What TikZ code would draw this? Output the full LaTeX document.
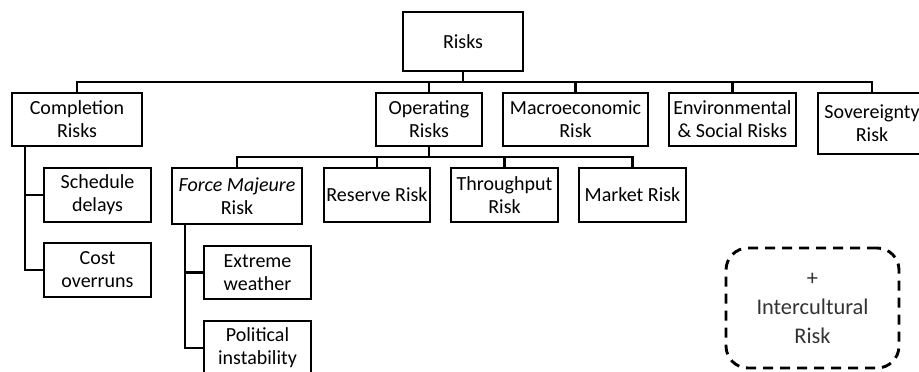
\documentclass[tikz,border=0pt]{standalone}
\usepackage{fontspec}
\setmainfont{Carlito}
\begin{document}
\begin{tikzpicture}[x=0.5pt,y=-0.5pt,
  box/.style={draw,line width=1.45pt,inner sep=0pt,align=center,font=\fontsize{10}{11.5}\selectfont},
  conn/.style={line width=1.45pt},
  dbox/.style={draw,line width=1.45pt,dash pattern=on 5pt off 3.5pt,rounded corners=11pt,inner sep=0pt,align=center,text=black!80,font=\fontsize{11.2}{14.5}\selectfont}]
\useasboundingbox (0,0) rectangle (919,371);
% level 0
\node[box,minimum width=60pt,minimum height=29.5pt] (risks) at (463,41.5) {Risks};
% level 1
\node[box,minimum width=65pt,minimum height=26.5pt] (comp) at (77,119.5) {Completion\\Risks};
\node[box,minimum width=53pt,minimum height=26.5pt] (oper) at (429,119.5) {Operating\\Risks};
\node[box,minimum width=72.5pt,minimum height=26.5pt] (macro) at (575.5,119.5) {Macroeconomic\\Risk};
\node[box,minimum width=63.5pt,minimum height=26.5pt] (env) at (732.5,119.5) {Environmental\\\& Social Risks};
\node[box,minimum width=54pt,minimum height=30.5pt] (sov) at (872,123.5) {Sovereignty\\Risk};
% completion children
\node[box,minimum width=53.5pt,minimum height=27pt] (sched) at (97.5,195) {Schedule\\delays};
\node[box,minimum width=53.5pt,minimum height=27pt] (cost) at (97.5,270) {Cost\\overruns};
% operating children
\node[box,minimum width=65pt,minimum height=28pt] (force) at (237,196) {\textit{Force Majeure}\\Risk};
\node[box,minimum width=53pt,minimum height=27pt] (reserve) at (377,195) {Reserve Risk};
\node[box,minimum width=53.5pt,minimum height=27pt] (through) at (504.5,195) {Throughput\\Risk};
\node[box,minimum width=53.5pt,minimum height=27pt] (market) at (632.5,195) {Market Risk};
% force majeure children
\node[box,minimum width=53.5pt,minimum height=26.5pt] (extreme) at (257.5,272.5) {Extreme\\weather};
\node[box,minimum width=53.5pt,minimum height=27pt] (political) at (257.5,348) {Political\\instability};
% intercultural
\node[dbox,minimum width=86.5pt,minimum height=60pt] (inter) at (812.5,308) {+\\Intercultural\\Risk};
% buses
\coordinate (bus) at (0,82);
\coordinate (bus2) at (0,157);
\coordinate (sp1) at (25,0);
\coordinate (sp2) at (185,0);
\draw[conn] (comp.north) -- (comp.north |- bus) -- (sov.north |- bus) -- (sov.north);
\draw[conn] (risks.south) -- (risks.south |- bus);
\foreach \n in {oper,macro,env} \draw[conn] (\n.north) -- (\n.north |- bus);
\draw[conn] (force.north) -- (force.north |- bus2) -- (market.north |- bus2) -- (market.north);
\draw[conn] (oper.south) -- (oper.south |- bus2);
\foreach \n in {reserve,through} \draw[conn] (\n.north) -- (\n.north |- bus2);
\draw[conn] (comp.south -| sp1) |- (cost.west);
\draw[conn] (sp1 |- sched.west) -- (sched.west);
\draw[conn] (force.south -| sp2) |- (political.west);
\draw[conn] (sp2 |- extreme.west) -- (extreme.west);
\end{tikzpicture}
\end{document}
